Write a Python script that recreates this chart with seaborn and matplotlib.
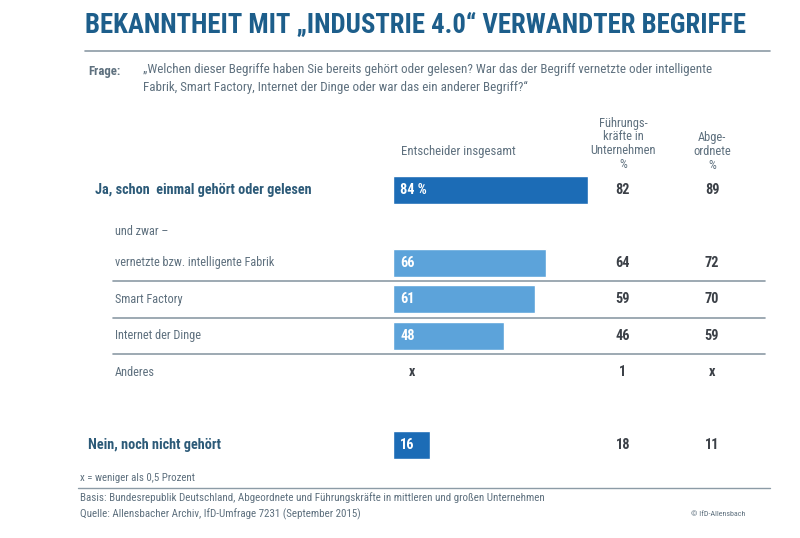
import matplotlib
matplotlib.use("Agg")
import matplotlib.pyplot as plt
import matplotlib.transforms as mtransforms
from matplotlib.lines import Line2D
import pandas as pd
import seaborn as sns

# Texts
title = "BEKANNTHEIT MIT „INDUSTRIE 4.0“ VERWANDTER BEGRIFFE"
question = ("„Welchen dieser Begriffe haben Sie bereits gehört oder gelesen? War das der Begriff vernetzte oder intelligente\n"
            "Fabrik, Smart Factory, Internet der Dinge oder war das ein anderer Begriff?“")
note = "x = weniger als 0,5 Prozent"
basis = "Basis: Bundesrepublik Deutschland, Abgeordnete und Führungskräfte in mittleren und großen Unternehmen"
quelle = "Quelle: Allensbacher Archiv, IfD-Umfrage 7231 (September 2015)"

# Data (None = "x", weniger als 0,5 Prozent)
categories = ["Ja, schon  einmal gehört oder gelesen", "vernetzte bzw. intelligente Fabrik",
              "Smart Factory", "Internet der Dinge", "Anderes", "Nein, noch nicht gehört"]
level = ["main", "sub", "sub", "sub", "sub", "main"]
entscheider = [84, 66, 61, 48, None, 16]
fuehrung = [82, 64, 59, 46, 1, 18]
abgeordnete = [89, 72, 70, 59, None, 11]

# Layout: row slot of each category
slots = [0, 2, 3, 4, 5, 7]

W, H = 800, 538
C_TITLE = "#1d5e8b"
C_BOLD = "#2c5a78"
C_GRAY = "#5e707e"
C_NUM = "#3b4047"
C_LINE = "#8c9ba6"
palette = {"main": "#1c6cb6", "sub": "#5ca3da"}

df = pd.DataFrame({"cat": categories, "level": level, "value": entscheider,
                   "fk": fuehrung, "abg": abgeordnete, "slot": slots})

sns.set_theme(style="white")
plt.rcParams["font.family"] = ["Roboto Condensed", "DejaVu Sans"]

fig = plt.figure(figsize=(W / 100, H / 100), dpi=100)
slot_px = (445 - 190) / 7
top_px = 190 - 0.5 * slot_px
bot_px = 445 + 0.5 * slot_px
ax = fig.add_axes([393 / W, 1 - bot_px / H, 232 / W, (bot_px - top_px) / H])

bars = df.dropna(subset=["value"])
sns.barplot(data=bars, x="value", y="slot", hue="level", palette=palette, orient="h",
            native_scale=True, dodge=False, width=0.78, legend=False, ax=ax,
            saturation=1)
ax.set_xlim(0, 100)
ax.set_ylim(7.5, -0.5)
ax.axis("off")


def fx(x):
    return x / W


def fy(y):
    return 1 - y / H


row = mtransforms.blended_transform_factory(fig.transFigure, ax.transData)

# Title and question
fig.text(fx(85), fy(25), title, fontsize=19.3, fontweight="bold", color=C_TITLE, va="center")
fig.add_artist(Line2D([fx(85), fx(770)], [fy(51), fy(51)], color=C_LINE, lw=1.2))
fig.text(fx(88), fy(72), "Frage:", fontsize=9.2, fontweight="bold", color=C_GRAY, va="center")
fig.text(fx(143), fy(63), question, fontsize=9.4, color=C_GRAY, va="top", linespacing=1.5)

# Column headers
fig.text(fx(458), fy(151), "Entscheider insgesamt", fontsize=9.2, color=C_GRAY, ha="center", va="center")
fig.text(fx(623), fy(144), "Führungs-\nkräfte in\nUnternehmen\n%", fontsize=9, color=C_GRAY,
         ha="center", va="center", linespacing=1.1)
fig.text(fx(712), fy(151), "Abge-\nordnete\n%", fontsize=9, color=C_GRAY,
         ha="center", va="center", linespacing=1.1)

# Rows
for _, r in df.iterrows():
    if r["level"] == "main":
        x0 = 95 if r["slot"] == 0 else 88
        fig.text(fx(x0), r["slot"], r["cat"], transform=row, fontsize=10.3, fontweight="bold",
                 color=C_BOLD, va="center")
    else:
        fig.text(fx(115), r["slot"], r["cat"], transform=row, fontsize=8.8, color=C_GRAY, va="center")
    if pd.isna(r["value"]):
        fig.text(fx(412), r["slot"], "x", transform=row, fontsize=10, fontweight="bold",
                 color=C_NUM, va="center", ha="center")
    else:
        lab = f"{int(r['value'])} %" if r["slot"] == 0 else f"{int(r['value'])}"
        ax.text(3.2, r["slot"], lab, fontsize=10.3, fontweight="bold", color="white", va="center")
    for col, xc in (("fk", 623), ("abg", 712)):
        v = r[col]
        fig.text(fx(xc), r["slot"], "x" if pd.isna(v) else f"{int(v)}", transform=row,
                 fontsize=10.3, fontweight="bold", color=C_NUM, ha="center", va="center")

fig.text(fx(115), 1.15, "und zwar –", transform=row, fontsize=8.8, color=C_GRAY, va="center")
for s in (2.5, 3.5, 4.5):
    fig.add_artist(Line2D([fx(113), fx(765)], [s, s], transform=row, color=C_LINE, lw=1.2))

# Footer
fig.text(fx(80), fy(478), note, fontsize=7.8, color=C_GRAY, va="center")
fig.add_artist(Line2D([fx(78), fx(770)], [fy(488), fy(488)], color=C_LINE, lw=1.0))
fig.text(fx(80), fy(498), basis, fontsize=7.9, color=C_GRAY, va="center")
fig.text(fx(80), fy(514), quelle, fontsize=7.9, color=C_GRAY, va="center")
fig.text(fx(745), fy(514), "© IfD-Allensbach", fontsize=5.8, color=C_GRAY, va="center", ha="right")

fig.savefig("out.png", dpi=100)
